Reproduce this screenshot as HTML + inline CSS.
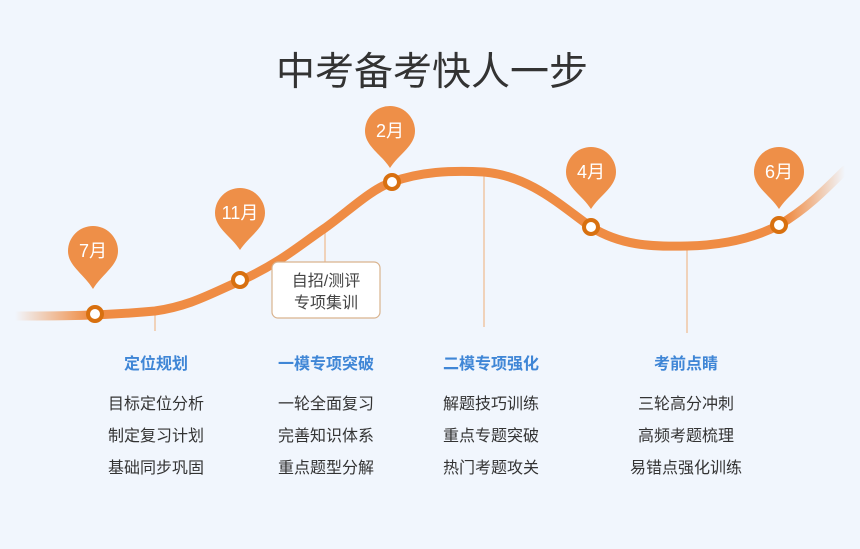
<!DOCTYPE html>
<html><head><meta charset="utf-8"><style>
body{margin:0;width:860px;height:549px;background:#f1f6fd;overflow:hidden;font-family:"Liberation Sans","Noto Sans CJK SC",sans-serif}
</style></head><body>
<svg width="860" height="549" xmlns="http://www.w3.org/2000/svg" style="position:absolute;left:0;top:0">
<defs>
<linearGradient id="g" x1="15" y1="0" x2="845" y2="0" gradientUnits="userSpaceOnUse">
<stop offset="0" stop-color="#ef8c44" stop-opacity="0"/>
<stop offset="0.09" stop-color="#ef8c44"/>
<stop offset="0.93" stop-color="#ef8c44"/>
<stop offset="1" stop-color="#ef8c44" stop-opacity="0"/>
</linearGradient>
</defs>
<text x="432" y="85" text-anchor="middle" font-size="39" fill="#333" font-family="Liberation Sans,Noto Sans CJK SC,sans-serif">中考备考快人一步</text>
<g stroke="#f0c6a4" stroke-width="1.5">
<line x1="155" y1="310" x2="155" y2="331"/>
<line x1="325" y1="228" x2="325" y2="262"/>
<line x1="484" y1="172" x2="484" y2="327"/>
<line x1="687" y1="246" x2="687" y2="333"/>
</g>
<path d="M15,316 C60,316 100,316 155,311 C190,306 210,294 240,281 C280,263 300,245 325,228 C350,210 370,190 392,182 C420,172 450,170 484,172 C530,176 560,205 591,227 C620,245 650,247 687,246 C730,245 760,235 779,225 C805,210 825,190 845,170" fill="none" stroke="url(#g)" stroke-width="9" stroke-linecap="round"/>
<rect x="272" y="262" width="108" height="56" rx="6" fill="#fff" stroke="#d9b38e" stroke-width="1.2"/>
<text x="326" y="286" text-anchor="middle" font-size="16" fill="#444">自招/测评</text>
<text x="326" y="308" text-anchor="middle" font-size="16" fill="#444">专项集训</text>
<g fill="#ee8f48">
<path d="M68,251 A25,25 0 1 1 118,251 C118,266 102,274 93,289 C84,274 68,266 68,251Z"/>
<path d="M215,213 A25,25 0 1 1 265,213 C265,228 249,236 240,250 C231,236 215,228 215,213Z"/>
<path d="M365,131 A25,25 0 1 1 415,131 C415,146 399,154 390,168 C381,154 365,146 365,131Z"/>
<path d="M566,172 A25,25 0 1 1 616,172 C616,187 600,195 591,209 C582,195 566,187 566,172Z"/>
<path d="M754,172 A25,25 0 1 1 804,172 C804,187 788,195 779,209 C770,195 754,187 754,172Z"/>
</g>
<g fill="#fff" font-size="18" text-anchor="middle">
<text x="93" y="257">7月</text>
<text x="240" y="219">11月</text>
<text x="390" y="137">2月</text>
<text x="591" y="178">4月</text>
<text x="779" y="178">6月</text>
</g>
<g fill="#fff" stroke="#d8700f" stroke-width="4">
<circle cx="95" cy="314" r="7"/>
<circle cx="240" cy="280" r="7"/>
<circle cx="392" cy="182" r="7"/>
<circle cx="591" cy="227" r="7"/>
<circle cx="779" cy="225" r="7"/>
</g>
<g font-size="16" font-weight="bold" fill="#3f86d6" text-anchor="middle">
<text x="156" y="369">定位规划</text>
<text x="326" y="369">一模专项突破</text>
<text x="491" y="369">二模专项强化</text>
<text x="686" y="369">考前点睛</text>
</g>
<g font-size="16" fill="#333" text-anchor="middle">
<text x="156" y="409">目标定位分析</text><text x="156" y="441">制定复习计划</text><text x="156" y="473">基础同步巩固</text>
<text x="326" y="409">一轮全面复习</text><text x="326" y="441">完善知识体系</text><text x="326" y="473">重点题型分解</text>
<text x="491" y="409">解题技巧训练</text><text x="491" y="441">重点专题突破</text><text x="491" y="473">热门考题攻关</text>
<text x="686" y="409">三轮高分冲刺</text><text x="686" y="441">高频考题梳理</text><text x="686" y="473">易错点强化训练</text>
</g>
</svg>
</body></html>
